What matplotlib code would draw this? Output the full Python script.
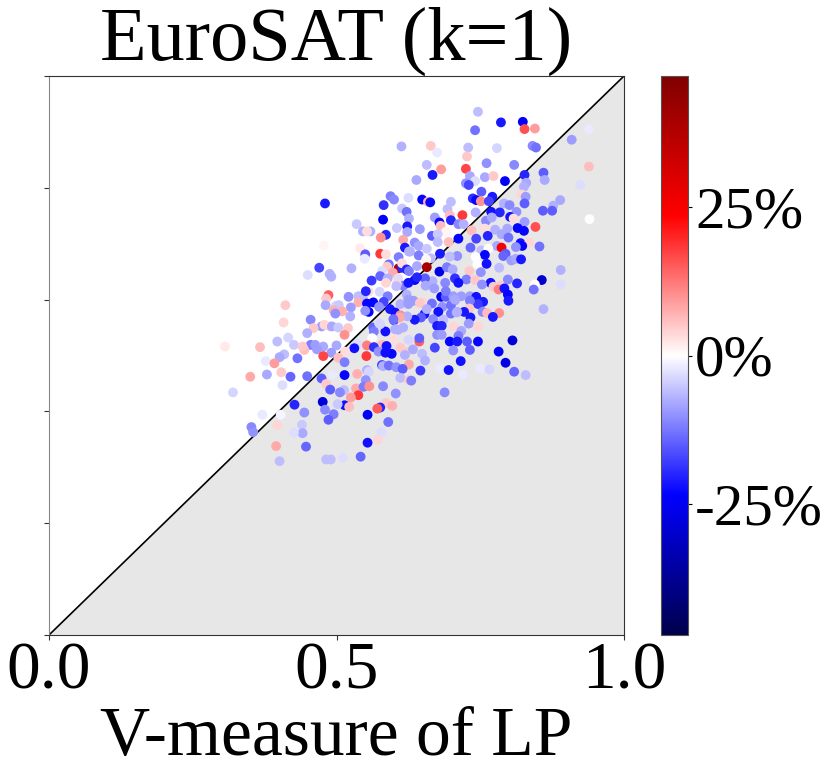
import matplotlib
import matplotlib.pyplot as plt
import numpy as np

matplotlib.use('Agg')

plt.rcParams['font.family'] = ['Liberation Serif', 'DejaVu Serif']

# V-measure of LP
v_lp = [
    .480, .613, .594, .600, .582, .625, .614, .622, .626, .581,
    .535, .623, .605, .623, .546, .559, .553, .586, .577, .616,
    .478, .541, .619, .626, .550, .576, .586, .549, .608, .591,
    .588, .470, .526, .450, .488, .491, .608, .614, .614, .622,
    .579, .598, .576, .589, .561, .607, .586, .616, .605,
    .746, .786, .824, .741, .827, .845, .939, .909, .664, .729,
    .779, .841, .847, .675, .727, .657, .682, .725, .761, .809,
    .939, .667, .639, .732, .758, .773, .827, .860, .862, .793,
    .741, .725, .730, .830, .826, .924, .752, .822, .829, .649,
    .659, .663, .737, .743, .771, .751, .765, .699, .889, .791,
    .801, .827, .877, .693, .859, .875, .813, .769, .784, .742,
    .719, .697, .671, .802, .808, .699, .679, .760, .770, .827,
    .940, .712, .721, .681, .846, .815, .826, .797, .758, .645,
    .776, .735, .690, .666, .676, .787, .763, .743, .799, .636,
    .712, .695, .676, .820, .835, .853, .823, .779, .787, .733,
    .812, .643, .657, .628, .752, .764, .794, .758, .680, .643,
    .664, .710, .697, .742, .656, .790, .804, .812, .821, .745,
    .761, .626, .640, .657, .679, .692, .702, .783, .731, .890,
    .751, .636, .706, .667, .654, .726, .741, .712, .798, .768,
    .814, .857, .845, .890, .753, .689, .785,
    .411, .486, .482, .521, .538, .546, .556, .551, .575, .589,
    .604, .538, .553, .564, .582, .481, .499, .504, .525, .574,
    .611, .625, .556, .495, .510, .498, .524, .593, .602, .600,
    .611, .408, .455, .474, .460, .489, .479, .492, .503, .520,
    .564, .565, .585, .574, .607, .616, .449, .514, .416, .562,
    .397, .537, .426, .455, .463, .477, .500, .553, .579, .599,
    .611, .306, .367, .444, .441, .466, .531, .565, .573, .587,
    .622, .491, .515, .477, .409, .401, .432, .552, .596, .585,
    .619, .377, .392, .503, .514, .626, .579, .581, .591, .604,
    .615, .404, .493, .514, .536, .553, .556, .350, .379, .420,
    .449, .474, .551, .611, .626, .482, .406, .320, .489, .513,
    .506, .534, .547, .557, .581, .603, .538, .525, .476, .427,
    .514, .502, .522, .480, .586, .576, .571, .597, .444, .371,
    .403, .495, .554, .486, .352, .355, .397, .440, .590, .441,
    .426, .578, .554, .572, .395, .447, .542, .401, .482, .490,
    .511,
    .773, .782, .792, .843, .798, .799, .860, .682, .690, .703,
    .717, .732, .743, .755, .746, .732, .706, .666, .649, .653,
    .634, .622, .684, .699, .731, .754, .762, .783, .772, .722,
    .710, .699, .677, .733, .647, .636, .623, .668, .686, .730,
    .704, .746, .675, .683, .717, .675, .683, .712, .644, .644,
    .806, .697, .710, .727, .746, .625, .671, .703, .732, .782,
    .633, .649, .654, .716, .794, .646, .680, .695, .750, .766,
    .720, .809, .829, .630, .688,
    .625, .645, .657, .706, .709, .610, .599, .602, .576, .550,
    .640, .655, .625, .670, .690,
]

# V-measure on the (unlabelled) y axis
v_other = [
    .772, .874, .785, .779, .769, .782, .763, .757, .745, .743,
    .735, .731, .728, .721, .722, .722, .722, .716, .711, .707,
    .697, .692, .693, .686, .681, .682, .681, .673, .676, .663,
    .659, .657, .656, .644, .646, .641, .656, .657, .665, .654,
    .651, .648, .642, .638, .634, .638, .630, .625, .628,
    .936, .917, .918, .903, .905, .906, .905, .886, .875, .872,
    .871, .875, .872, .863, .856, .841, .833, .834, .844, .841,
    .838, .823, .814, .821, .819, .821, .823, .827, .814, .812,
    .812, .808, .805, .809, .802, .805, .793, .788, .784, .779,
    .775, .774, .781, .778, .784, .776, .776, .775, .778, .772,
    .769, .772, .768, .762, .759, .759, .757, .757, .756, .756,
    .751, .751, .747, .748, .745, .742, .738, .741, .747, .739,
    .744, .735, .735, .732, .730, .728, .723, .727, .727, .726,
    .725, .724, .721, .714, .717, .717, .714, .709, .711, .702,
    .709, .703, .703, .701, .702, .695, .696, .696, .693, .693,
    .694, .696, .691, .686, .688, .691, .682, .680, .682, .679,
    .674, .678, .677, .676, .672, .678, .670, .673, .672, .663,
    .664, .651, .660, .658, .650, .658, .654, .657, .651, .653,
    .649, .635, .638, .633, .638, .636, .635, .630, .636, .630,
    .629, .635, .627, .627, .627, .630, .625,
    .590, .608, .602, .605, .606, .605, .614, .615, .614, .606,
    .624, .595, .593, .595, .596, .590, .589, .590, .586, .587,
    .592, .592, .578, .581, .579, .575, .570, .583, .577, .563,
    .572, .559, .564, .552, .549, .552, .555, .552, .550, .549,
    .550, .543, .543, .558, .546, .550, .540, .537, .532, .531,
    .525, .521, .519, .519, .519, .516, .518, .518, .519, .530,
    .514, .516, .515, .510, .516, .511, .513, .515, .507, .517,
    .506, .505, .507, .499, .502, .497, .495, .499, .503, .505,
    .501, .490, .486, .496, .488, .484, .483, .481, .482, .479,
    .476, .470, .466, .465, .467, .474, .471, .462, .466, .462,
    .463, .459, .456, .460, .456, .449, .447, .434, .439, .438,
    .434, .441, .444, .445, .445, .432, .429, .425, .417, .412,
    .411, .413, .408, .403, .415, .407, .405, .410, .398, .394,
    .394, .395, .394, .385, .372, .363, .375, .376, .381, .361,
    .362, .363, .344, .349, .338, .337, .319, .311, .314, .314,
    .317,
    .623, .618, .620, .618, .609, .598, .583, .605, .605, .606,
    .606, .606, .605, .596, .592, .598, .598, .593, .595, .574,
    .598, .609, .587, .590, .584, .578, .576, .576, .569, .578,
    .578, .575, .578, .568, .568, .564, .570, .565, .564, .557,
    .552, .552, .553, .553, .544, .537, .537, .535, .525, .531,
    .527, .525, .525, .525, .525, .528, .514, .509, .510, .507,
    .511, .503, .491, .490, .487, .473, .477, .474, .477, .475,
    .466, .471, .465, .455, .434,
    .600, .594, .583, .600, .577, .568, .565, .547, .556, .580,
    .640, .625, .630, .620, .615,
]

# difference in percent, drawn as point colour
diff_pct = [
    -21, -7, -12, -11, -19, -3, -5, -13, -7, -24,
    -5, -21, -5, -8, -7, -7, 3, -20, 10, 8,
    1, 2, -21, -7, -15, 18, 3, -2, -12, -13,
    5, -17, -7, -3, -7, -7, 38, -20, 3, -20,
    -3, 8, -14, -7, -18, -3, 4, -12, 4,
    -6, -21, -24, -13, 16, 9, -2, -9, 5, -6,
    -4, -11, -13, -2, 5, -6, 9, 17, -10, -11,
    6, -21, -8, -8, -8, 5, -20, -15, -8, -24,
    -3, -10, -17, -8, -7, -3, -15, 4, -9, -23,
    7, -23, -19, -23, -21, 10, -17, -6, -8, -7,
    -11, -15, -7, -6, -15, -15, -10, -22, -20, -7,
    18, 6, -9, -22, 3, -20, -23, -11, -8, -9,
    0, -11, -7, 6, 16, -23, -23, -8, 3, -9,
    -7, 6, 1, -15, -5, -8, -20, -17, -13, -10,
    -23, 6, -6, -22, 4, -13, -23, -8, 25, -14,
    -10, -8, -5, -7, -6, 0, -15, -23, -21, -12,
    -6, -10, -6, 0, 1, -14, -9, -8, -21, 0,
    -22, -12, -8, 40, -27, -12, -8, -6, 5, -7,
    -10, -23, -19, -7, -15, -12, 5, -22, -11, -22,
    -20, -30, 0, -3, -10, -11, 5,
    5, 15, 5, -10, -6, -6, 3, -20, -4, -12,
    -6, 7, -23, -23, -17, -8, -4, -5, -9, -10,
    -7, -9, -23, 7, 7, -10, -7, -21, -22, -16,
    10, 4, -11, -9, 5, 5, 4, -8, -5, 5,
    -14, -12, -22, -3, -7, -7, -7, 10, -4, 0,
    -6, -3, -5, -12, -9, -8, -8, 12, 6, 3,
    5, 2, 6, 6, 5, -9, -22, -19, -10, -22,
    5, -9, 3, 17, -6, -8, -13, 18, -23, -22,
    -7, -2, 9, 6, -12, 8, -17, -7, -13, -10,
    -15, 5, -2, -23, 7, -7, -4, 8, -8, -14,
    -13, -15, -10, -6, 5, 5, -3, -4, -15, -6,
    -11, 8, -12, 10, -11, -10, 18, 9, -28, -20,
    -22, -5, 6, -11, 5, -20, 15, 7, -10, -2,
    -1, -12, -24, -15, -11, -10, 4, -5, -13, -8,
    -3, -3, -22, 4, 8, -14, -14, -6, -6, -6,
    -3,
    5, 12, -22, -13, -23, -21, -7, -26, -15, -9,
    -9, -9, -22, -21, -18, -12, -7, -13, 4, -22,
    -9, -7, -10, -13, 5, -11, 6, 10, -21, -21,
    -8, -13, -22, -21, -15, -21, -7, -11, -6, -9,
    4, 4, -21, -20, -8, -10, -9, -12, 15, -15,
    -29, -23, -21, -15, -23, -4, -17, -10, -15, -24,
    -8, -6, -7, -22, -27, -18, -2, -22, -2, -4,
    -2, -14, -6, -12, -11,
    -9, 5, -7, -8, -7, 8, -13, -7, -4, -10,
    -20, -8, -22, -9, -12,
]

x_ticks = [0.0, 0.5, 1.0]
y_ticks = [0.0, 0.2, 0.4, 0.6, 0.8, 1.0]
cbar_ticks = [-25, 0, 25]
cbar_labels = ['-25%', '0%', '25%']
color_limit = 47

fig = plt.figure(figsize=(8.31, 7.77), dpi=100)
ax = fig.add_axes([49 / 831, 142 / 777, 575 / 831, 559 / 777])

# shaded half below the diagonal, then the diagonal itself
ax.fill_between([0, 1], [0, 0], [0, 1], color='#e7e7e7', linewidth=0, zorder=1)
ax.plot([0, 1], [0, 1], color='black', linewidth=1.2, zorder=2)

points = ax.scatter(v_lp, v_other, c=diff_pct, cmap='seismic', vmin=-color_limit,
                    vmax=color_limit, s=50, linewidths=0, zorder=3)

ax.set_xlim(0, 1)
ax.set_ylim(0, 1)
ax.set_xticks(x_ticks)
ax.set_xticklabels(['0.0', '0.5', '1.0'], fontsize=48.5)
ax.set_yticks(y_ticks)
ax.set_yticklabels([])
ax.tick_params(axis='both', length=3.5, width=0.8, color='#333333')
ax.tick_params(axis='x', pad=1)
ax.set_xlabel('V-measure of LP', fontsize=50, labelpad=3)
ax.set_title('EuroSAT (k=1)', fontsize=55, pad=3)
for side in ax.spines:
    ax.spines[side].set_linewidth(0.8)
    ax.spines[side].set_color('#333333')
ax.spines['left'].set_color('#888888')

cax = fig.add_axes([661 / 831, 142 / 777, 27 / 831, 559 / 777])
cbar = fig.colorbar(points, cax=cax)
cbar.set_ticks(cbar_ticks)
cbar.set_ticklabels(cbar_labels)
cbar.ax.tick_params(labelsize=42.5, length=3, width=0.8, pad=2)
cbar.outline.set_linewidth(0.8)
cbar.outline.set_edgecolor('#555555')

fig.savefig('out.png', dpi=100)
plt.close(fig)
